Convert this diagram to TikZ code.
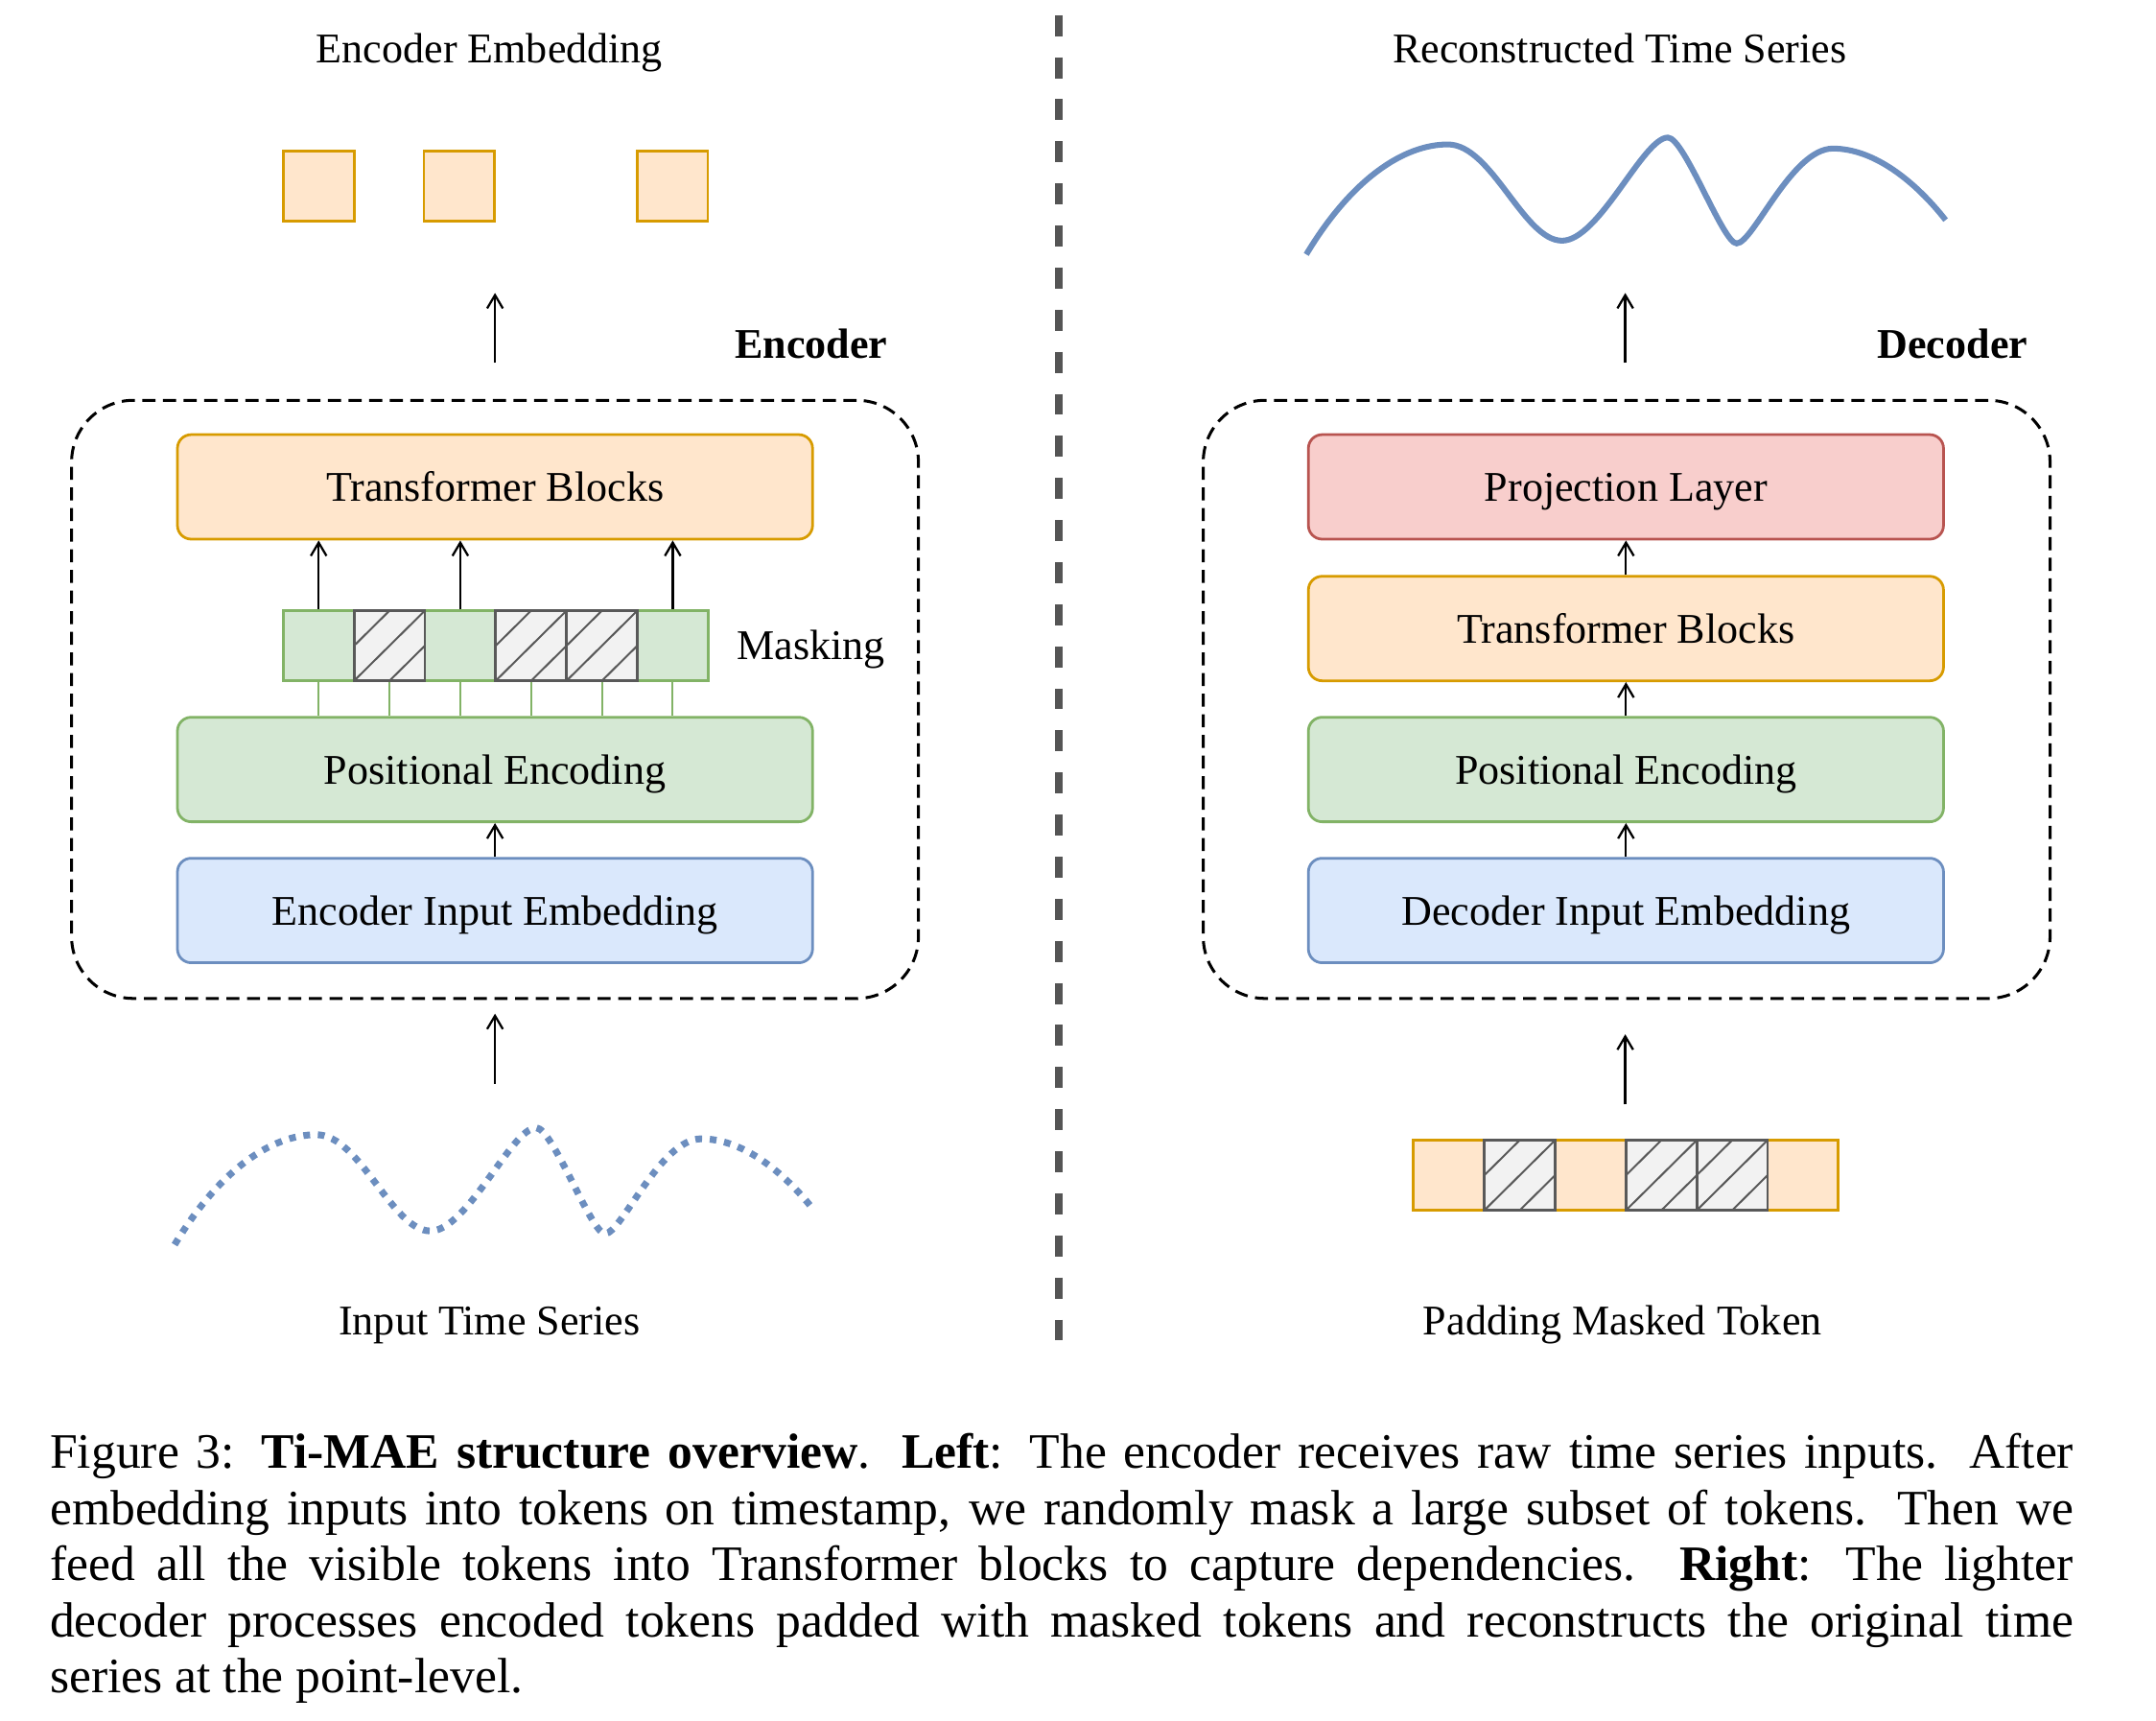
\documentclass[tikz,border=0pt]{standalone}
\usepackage{fontspec}
\setmainfont{Liberation Serif}
\usetikzlibrary{arrows.meta}
\definecolor{orF}{HTML}{FFE6CC}\definecolor{orD}{HTML}{D79B00}
\definecolor{grF}{HTML}{D5E8D4}\definecolor{grD}{HTML}{82B366}
\definecolor{blF}{HTML}{DAE8FC}\definecolor{blD}{HTML}{6C8EBF}
\definecolor{rdF}{HTML}{F8CECC}\definecolor{rdD}{HTML}{B85450}
\definecolor{hF}{HTML}{F2F2F2}\definecolor{hD}{HTML}{595959}
\definecolor{divc}{HTML}{555555}
\newcommand\mywavepath{(127,905) .. controls (160,850) and (198,825) .. (230,825) .. controls (262,825) and (285,895) .. (313,895) .. controls (340,895) and (372,820) .. (390,820) .. controls (402,820) and (430,897) .. (440,897) .. controls (452,897) and (480,828) .. (510,828) .. controls (540,828) and (570,852) .. (592,880)}
\begin{document}
\begin{tikzpicture}[x=0.02cm,y=-0.02cm,
 lbl/.style={font=\fontsize{17.5}{20}\selectfont, inner sep=0, text height=11.9pt, text depth=0pt},
 blk/.style={draw, line width=1.1pt, rounded corners=0.2cm, minimum width=9.24cm, minimum height=1.52cm, inner sep=0, text height=11.9pt, text depth=0pt, font=\fontsize{17.5}{20}\selectfont},
 sTF/.style={blk, fill=orF, draw=orD},
 sPE/.style={blk, fill=grF, draw=grD},
 sIE/.style={blk, fill=blF, draw=blD},
 sPJ/.style={blk, fill=rdF, draw=rdD},
 tokcell/.style={draw, line width=1.1pt, minimum width=1.03cm, minimum height=1.02cm, inner sep=0},
 gcell/.style={tokcell, fill=grF, draw=grD},
 ocell/.style={tokcell, fill=orF, draw=orD},
 hcell/.style={tokcell, fill=hF, draw=hD, path picture={\draw[hD, line width=0.8pt] (path picture bounding box.west) -- (path picture bounding box.north) (path picture bounding box.south west) -- (path picture bounding box.north east) (path picture bounding box.south) -- (path picture bounding box.east);}},
 dframe/.style={draw, line width=1.2pt, dash pattern=on 0.19cm off 0.11cm, rounded corners=0.9cm, minimum width=12.32cm, minimum height=8.7cm, inner sep=0},
 arr/.style={-{Straight Barb[length=5.5pt,width=6.5pt]}, line width=0.9pt},
 wavestyle/.style={draw=blD, line width=2.4pt}
]
\path[use as bounding box] (0,0) rectangle (1568,1251);

% divider
\draw[divc, line width=0.1cm, dash pattern=on 0.306cm off 0.306cm] (770,11) -- (770,982);

% ===== LEFT =====
\node[lbl] (encembT) at (356,35) {Encoder Embedding};
\node[ocell] (sq1) at (232,135.5) {};
\node[ocell] (sq2) at (334,135.5) {};
\node[ocell] (sq3) at (489,135.5) {};
\coordinate (ea1) at (360,264);
\coordinate (ea2) at (360,213);
\draw[arr] (ea1) -- (ea2);
\node[lbl, font=\fontsize{17.5}{20}\selectfont\bfseries] (encT) at (590,250) {Encoder};

\node[dframe] (encF) at (360,508.5) {};
\node[sTF] (etb) at (360,354) {Transformer Blocks};
\node[sPE] (epe) at (360,559.5) {Positional Encoding};
\node[sIE] (eie) at (360,662) {Encoder Input Embedding};

\node[gcell] (m1) at (231.75,469.5) {};
\node[gcell] (m3) at (334.75,469.5) {};
\node[gcell] (m6) at (489.25,469.5) {};
\node[hcell] (m2) at (283.25,469.5) {};
\node[hcell] (m4) at (386.25,469.5) {};
\node[hcell] (m5) at (437.75,469.5) {};
\node[lbl] (maskT) at (590,469) {Masking};

\foreach \m in {m1,m2,m3,m4,m5,m6}{
  \draw[grD, line width=0.8pt] (\m.south) -- (\m.south |- epe.north);
}
\foreach \m in {m1,m3,m6}{
  \draw[arr] (\m.north) -- (\m.north |- etb.south);
}
\draw[arr] (eie.north) -- (epe.south);
\coordinate (eb1) at (360,788);
\coordinate (eb2) at (360,737);
\draw[arr] (eb1) -- (eb2);

\draw[wavestyle, line width=2.8pt, dash pattern=on 2.8pt off 3.2pt] \mywavepath;
\node[lbl] (inT) at (356,960) {Input Time Series};

% ===== RIGHT =====
\node[lbl] (recT) at (1178,35) {Reconstructed Time Series};
\draw[wavestyle, shift={(823,-720)}] \mywavepath;
\coordinate (da1) at (1182,264);
\coordinate (da2) at (1182,213);
\draw[arr] (da1) -- (da2);
\node[lbl, font=\fontsize{17.5}{20}\selectfont\bfseries] (decT) at (1420,250) {Decoder};

\node[dframe] (decF) at (1183,508.5) {};
\node[sPJ] (dpj) at (1182.5,354) {Projection Layer};
\node[sTF] (dtb) at (1182.5,457) {Transformer Blocks};
\node[sPE] (dpe) at (1182.5,559.5) {Positional Encoding};
\node[sIE] (die) at (1182.5,662) {Decoder Input Embedding};
\draw[arr] (dtb.north) -- (dpj.south);
\draw[arr] (dpe.north) -- (dtb.south);
\draw[arr] (die.north) -- (dpe.south);

\coordinate (db1) at (1182,803);
\coordinate (db2) at (1182,752);
\draw[arr] (db1) -- (db2);

\node[ocell] (p1) at (1053.75,854.5) {};
\node[ocell] (p3) at (1156.75,854.5) {};
\node[ocell] (p6) at (1311.25,854.5) {};
\node[hcell] (p2) at (1105.25,854.5) {};
\node[hcell] (p4) at (1208.25,854.5) {};
\node[hcell] (p5) at (1259.75,854.5) {};
\node[lbl] (padT) at (1180,960) {Padding Masked Token};

% ===== CAPTION =====
\node[anchor=north west, inner sep=0, text width=29.44cm, align=justify, font=\fontsize{20.5}{23.19}\selectfont] (cap) at (36,1042)
{Figure 3: \textbf{Ti-MAE structure overview}. \textbf{Left}: The encoder receives raw time series inputs. After\linebreak
embedding inputs into tokens on timestamp, we randomly mask a large subset of tokens. Then we\linebreak
feed all the visible tokens into Transformer blocks to capture dependencies. \textbf{Right}: The lighter\linebreak
decoder processes encoded tokens padded with masked tokens and reconstructs the original time\linebreak
series at the point-level.};
\end{tikzpicture}
\end{document}
